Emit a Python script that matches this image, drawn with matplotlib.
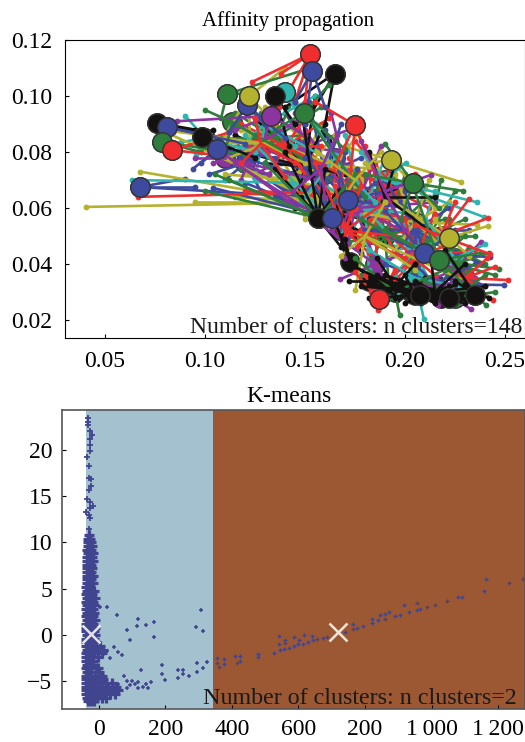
# -*- coding: utf-8 -*-
"""
Affinity propagation and K-means cluster plots, values read off the figure.
"""

import matplotlib
matplotlib.use('Agg')
import matplotlib.pyplot as plt

plt.rcParams['font.family'] = ['Liberation Serif', 'DejaVu Serif']

BLUE = '#3d4a9e'
GREEN = '#2f7d3b'
RED = '#ee2e2f'
TEAL = '#2fb5ae'
PURPLE = '#8c35a0'
OLIVE = '#b5b22f'
BLACK = '#141210'

# Affinity propagation: (exemplar x, exemplar y, [member points])
clusters_blue = [
    (0.120, 0.076, [(0.110, 0.070), (0.102, 0.072), (0.135, 0.070), (0.150, 0.062), (0.128, 0.066), (0.140, 0.066), (0.155, 0.060), (0.115, 0.086)]),
    (0.160, 0.072, [(0.130, 0.086), (0.120, 0.080), (0.140, 0.094), (0.152, 0.098), (0.168, 0.090), (0.178, 0.078), (0.186, 0.066), (0.178, 0.056), (0.165, 0.054), (0.150, 0.066), (0.138, 0.076), (0.195, 0.058)]),
    (0.205, 0.052, [(0.190, 0.070), (0.210, 0.068), (0.222, 0.060), (0.232, 0.052), (0.238, 0.040), (0.225, 0.032), (0.205, 0.030), (0.192, 0.042), (0.180, 0.052), (0.198, 0.062)]),
    (0.0675, 0.0675, [(0.090, 0.0705), (0.095, 0.0675), (0.150, 0.0640)]),
    (0.106, 0.081, [(0.094, 0.074), (0.098, 0.0760), (0.135, 0.0780), (0.150, 0.0710)]),
    (0.1637, 0.0564, [(0.120, 0.0690), (0.104, 0.0672), (0.135, 0.0640), (0.150, 0.0745), (0.170, 0.0800), (0.185, 0.0690), (0.150, 0.0840)]),
    (0.1717, 0.0629, [(0.150, 0.0780), (0.160, 0.0880), (0.190, 0.0660), (0.176, 0.0740), (0.200, 0.0600)]),
    (0.2094, 0.0439, [(0.190, 0.0590), (0.185, 0.0520), (0.2427, 0.0425), (0.225, 0.0520), (0.200, 0.0660)]),
    (0.215, 0.0330, [(0.2494, 0.0325), (0.235, 0.0400), (0.205, 0.0400), (0.190, 0.0400)]),
    (0.121, 0.0968, [(0.130, 0.0900), (0.112, 0.0870), (0.140, 0.0850)]),
    (0.1537, 0.109, [(0.145, 0.0980), (0.160, 0.0960), (0.150, 0.0900)]),
    (0.081, 0.0889, [(0.100, 0.0860), (0.120, 0.0830)]),
]
clusters_green = [
    (0.212, 0.050, [(0.200, 0.048), (0.225, 0.066), (0.220, 0.038), (0.232, 0.038), (0.200, 0.040), (0.230, 0.056), (0.218, 0.070), (0.240, 0.040)]),
    (0.190, 0.050, [(0.175, 0.066), (0.165, 0.062), (0.185, 0.072), (0.200, 0.072), (0.212, 0.064), (0.220, 0.056), (0.215, 0.044), (0.205, 0.036), (0.192, 0.032), (0.178, 0.036), (0.172, 0.048), (0.224, 0.042), (0.235, 0.050), (0.205, 0.058)]),
    (0.135, 0.085, [(0.115, 0.094), (0.108, 0.085), (0.118, 0.074), (0.130, 0.076), (0.152, 0.076), (0.162, 0.070), (0.150, 0.086), (0.158, 0.096), (0.145, 0.100), (0.128, 0.094)]),
    (0.225, 0.040, [(0.245, 0.036), (0.238, 0.032), (0.232, 0.046), (0.242, 0.044), (0.236, 0.028), (0.215, 0.030), (0.210, 0.048), (0.222, 0.056), (0.228, 0.030)]),
    (0.111, 0.1007, [(0.108, 0.0920), (0.1527, 0.1100), (0.125, 0.1010)]),
    (0.0786, 0.0836, [(0.098, 0.0800), (0.120, 0.0790)]),
    (0.1136, 0.0907, [(0.100, 0.0950), (0.140, 0.0800), (0.125, 0.0860), (0.110, 0.0800)]),
    (0.1495, 0.094, [(0.170, 0.0810), (0.162, 0.1040), (0.135, 0.0880), (0.180, 0.0640)]),
    (0.157, 0.0564, [(0.105, 0.0720), (0.112, 0.0700), (0.130, 0.0760), (0.100, 0.0660), (0.175, 0.0720)]),
    (0.204, 0.0689, [(0.229, 0.0661), (0.190, 0.0830), (0.180, 0.0720), (0.2168, 0.0600), (0.198, 0.0560)]),
    (0.2168, 0.0414, [(0.2469, 0.0382), (0.205, 0.0660), (0.2404, 0.0254), (0.190, 0.0520), (0.230, 0.0500), (0.178, 0.0560), (0.238, 0.0440)]),
    (0.195, 0.0300, [(0.1973, 0.0218), (0.175, 0.0420), (0.2200, 0.0380)]),
    (0.225, 0.0280, [(0.245, 0.0300), (0.210, 0.0340), (0.240, 0.0360)]),
]
clusters_red = [
    (0.195, 0.066, [(0.175, 0.084), (0.168, 0.066), (0.182, 0.050), (0.192, 0.054), (0.205, 0.072), (0.212, 0.060), (0.172, 0.074), (0.185, 0.076), (0.165, 0.078), (0.178, 0.052)]),
    (0.185, 0.058, [(0.165, 0.070), (0.172, 0.078), (0.180, 0.082), (0.192, 0.074), (0.200, 0.064), (0.208, 0.056), (0.205, 0.048), (0.195, 0.044), (0.186, 0.040), (0.176, 0.046), (0.168, 0.058), (0.160, 0.066), (0.188, 0.068), (0.178, 0.062), (0.198, 0.054), (0.214, 0.050), (0.152, 0.080), (0.146, 0.088)]),
    (0.140, 0.082, [(0.118, 0.090), (0.125, 0.078), (0.132, 0.072), (0.150, 0.072), (0.158, 0.082), (0.162, 0.092), (0.150, 0.092), (0.135, 0.092), (0.122, 0.084), (0.110, 0.082), (0.158, 0.066), (0.168, 0.072)]),
    (0.205, 0.042, [(0.190, 0.052), (0.215, 0.058), (0.225, 0.048), (0.235, 0.045), (0.228, 0.036), (0.215, 0.036), (0.195, 0.034), (0.183, 0.030), (0.200, 0.056)]),
    (0.1527, 0.115, [(0.1235, 0.1050), (0.138, 0.1080), (0.145, 0.0980), (0.137, 0.0960), (0.150, 0.0980)]),
    (0.0836, 0.0807, [(0.112, 0.0870), (0.105, 0.0790)]),
    (0.150, 0.0655, [(0.0665, 0.0640), (0.120, 0.0660)]),
    (0.175, 0.0896, [(0.155, 0.0980), (0.165, 0.0750), (0.185, 0.0720), (0.172, 0.0660), (0.180, 0.0800)]),
    (0.170, 0.0520, [(0.155, 0.0760), (0.190, 0.0620), (0.178, 0.0680), (0.165, 0.0680), (0.195, 0.0500), (0.182, 0.0440), (0.175, 0.0600), (0.200, 0.0420)]),
    (0.1868, 0.0275, [(0.1863, 0.0236), (0.180, 0.0360), (0.195, 0.0380), (0.175, 0.0370)]),
    (0.218, 0.0500, [(0.232, 0.0632), (0.2414, 0.0564), (0.2427, 0.0435), (0.225, 0.0620), (0.205, 0.0540)]),
    (0.230, 0.0350, [(0.2514, 0.0343), (0.244, 0.0271), (0.245, 0.0390), (0.2410, 0.0420)]),
    (0.128, 0.0830, [(0.145, 0.0760), (0.118, 0.0760), (0.140, 0.0710), (0.125, 0.0920)]),
]
clusters_teal = [
    (0.205, 0.045, [(0.190, 0.060), (0.215, 0.066), (0.222, 0.050), (0.195, 0.036), (0.212, 0.034), (0.228, 0.044), (0.185, 0.048)]),
    (0.180, 0.060, [(0.155, 0.070), (0.170, 0.086), (0.190, 0.078), (0.202, 0.058), (0.198, 0.046), (0.182, 0.038), (0.172, 0.050), (0.212, 0.050)]),
    (0.130, 0.090, [(0.112, 0.078), (0.125, 0.070), (0.145, 0.082), (0.160, 0.078), (0.155, 0.100), (0.118, 0.098)]),
    (0.1398, 0.1014, [(0.150, 0.0900), (0.145, 0.0960)]),
    (0.100, 0.0850, [(0.0955, 0.0790), (0.0880, 0.0835), (0.0900, 0.0930), (0.125, 0.0800)]),
    (0.1450, 0.0690, [(0.0635, 0.0700), (0.120, 0.0860), (0.168, 0.0520)]),
    (0.165, 0.0780, [(0.155, 0.0900), (0.185, 0.0620), (0.1480, 0.0620)]),
    (0.190, 0.0700, [(0.2003, 0.0761), (0.2395, 0.0568), (0.2359, 0.0621), (0.178, 0.0800)]),
    (0.205, 0.0350, [(0.2094, 0.0204), (0.195, 0.0280), (0.182, 0.0450), (0.235, 0.0310)]),
    (0.225, 0.0420, [(0.240, 0.0470), (0.210, 0.0560), (0.2050, 0.0460)]),
]
clusters_purple = [
    (0.150, 0.082, [(0.125, 0.072), (0.135, 0.082), (0.168, 0.080), (0.172, 0.088), (0.160, 0.070), (0.145, 0.094)]),
    (0.175, 0.060, [(0.150, 0.088), (0.163, 0.094), (0.188, 0.082), (0.196, 0.068), (0.205, 0.050), (0.188, 0.036), (0.170, 0.042), (0.158, 0.062), (0.215, 0.062)]),
    (0.225, 0.038, [(0.240, 0.032), (0.232, 0.028), (0.212, 0.042), (0.218, 0.052), (0.238, 0.048), (0.205, 0.032)]),
    (0.125, 0.082, [(0.104, 0.076), (0.118, 0.070), (0.142, 0.078), (0.152, 0.094)]),
    (0.133, 0.0929, [(0.0860, 0.0910), (0.115, 0.0880), (0.150, 0.0860), (0.128, 0.0800)]),
    (0.1100, 0.0780, [(0.0950, 0.0780), (0.155, 0.0700), (0.132, 0.0720)]),
    (0.1677, 0.0520, [(0.1150, 0.0760), (0.1720, 0.0590), (0.1400, 0.0620)]),
    (0.185, 0.0400, [(0.1677, 0.0346), (0.205, 0.0450), (0.1100, 0.0790)]),
    (0.190, 0.0660, [(0.2128, 0.0718), (0.1780, 0.0840), (0.205, 0.0700), (0.200, 0.0520)]),
    (0.215, 0.0320, [(0.2164, 0.0254), (0.233, 0.0239), (0.235, 0.0350), (0.200, 0.0330)]),
    (0.158, 0.0740, [(0.166, 0.0860), (0.144, 0.0660), (0.160, 0.0640)]),
]
clusters_olive = [
    (0.145, 0.070, [(0.110, 0.072), (0.120, 0.072), (0.128, 0.088), (0.150, 0.056), (0.165, 0.086), (0.158, 0.090), (0.172, 0.064)]),
    (0.165, 0.075, [(0.130, 0.096), (0.118, 0.088), (0.148, 0.062), (0.175, 0.060), (0.186, 0.074), (0.178, 0.088), (0.140, 0.072)]),
    (0.205, 0.055, [(0.195, 0.072), (0.222, 0.062), (0.236, 0.054), (0.228, 0.040), (0.190, 0.040), (0.180, 0.058), (0.212, 0.070)]),
    (0.122, 0.100, [(0.122, 0.0840), (0.1400, 0.1100), (0.135, 0.0900), (0.110, 0.0860)]),
    (0.157, 0.0620, [(0.0405, 0.0604), (0.0675, 0.0730), (0.0775, 0.0880), (0.095, 0.0620), (0.115, 0.0640), (0.135, 0.0700)]),
    (0.1300, 0.0830, [(0.0780, 0.0880), (0.0950, 0.0835), (0.1120, 0.0780), (0.150, 0.0760)]),
    (0.1928, 0.0771, [(0.180, 0.0760), (0.2278, 0.0693), (0.200, 0.0620), (0.170, 0.0820), (0.215, 0.0600)]),
    (0.222, 0.0493, [(0.2414, 0.0536), (0.215, 0.0560), (0.195, 0.0620), (0.232, 0.0430)]),
    (0.180, 0.0500, [(0.230, 0.0340), (0.1752, 0.0307), (0.205, 0.0380), (0.1680, 0.0430), (0.1900, 0.0620)]),
    (0.1750, 0.0700, [(0.1680, 0.0620), (0.1560, 0.0800), (0.1880, 0.0800)]),
]
clusters_black = [
    (0.170, 0.060, [(0.180, 0.066), (0.190, 0.048), (0.178, 0.044), (0.200, 0.068), (0.162, 0.084), (0.168, 0.046)]),
    (0.150, 0.075, [(0.125, 0.092), (0.115, 0.086), (0.105, 0.082), (0.130, 0.076), (0.160, 0.090), (0.170, 0.072), (0.160, 0.060), (0.145, 0.060), (0.175, 0.052), (0.155, 0.100)]),
    (0.1648, 0.108, [(0.1500, 0.0900), (0.1400, 0.0960), (0.1590, 0.0860)]),
    (0.135, 0.100, [(0.1300, 0.0900), (0.1450, 0.0900), (0.1420, 0.0820)]),
    (0.076, 0.0904, [(0.0950, 0.0880), (0.1150, 0.0840)]),
    (0.0986, 0.0854, [(0.1100, 0.0820), (0.1250, 0.0780), (0.1040, 0.0880)]),
    (0.1565, 0.0564, [(0.1480, 0.0960), (0.1400, 0.0800), (0.1600, 0.0740), (0.1350, 0.0740), (0.1660, 0.0660), (0.1480, 0.0640), (0.1760, 0.0390)]),
    (0.1900, 0.0640, [(0.2150, 0.0640), (0.1960, 0.0780), (0.2120, 0.0520), (0.1820, 0.0800)]),
    (0.1727, 0.0407, [(0.1700, 0.0490), (0.1810, 0.0360), (0.1650, 0.0550)]),
    (0.1820, 0.0340, [(0.2000, 0.0330), (0.1900, 0.0300), (0.1720, 0.0340)]),
    (0.2030, 0.0300, [(0.2150, 0.0260), (0.1960, 0.0270), (0.2100, 0.0350), (0.1880, 0.0330)]),
    (0.2180, 0.0280, [(0.2300, 0.0260), (0.2250, 0.0330), (0.2080, 0.0280)]),
    (0.2350, 0.0290, [(0.2420, 0.0280), (0.2250, 0.0340), (0.2300, 0.0330), (0.2200, 0.0450)]),
    (0.215, 0.030, [(0.190, 0.028), (0.200, 0.026), (0.205, 0.034), (0.225, 0.026), (0.235, 0.027), (0.240, 0.032), (0.230, 0.040), (0.190, 0.036), (0.178, 0.032), (0.213, 0.042), (0.222, 0.032)]),
    (0.195, 0.032, [(0.172, 0.040), (0.182, 0.028), (0.186, 0.042), (0.205, 0.040), (0.215, 0.027), (0.195, 0.028), (0.208, 0.026)]),
    (0.205, 0.029, [(0.182, 0.033), (0.192, 0.031), (0.198, 0.032), (0.212, 0.028), (0.220, 0.030), (0.228, 0.029), (0.238, 0.030), (0.232, 0.027), (0.186, 0.036), (0.200, 0.036)]),
]

# exemplars that stay visible on top of the cloud
top_x = [0.1398, 0.1648, 0.1527, 0.1537, 0.1495, 0.111, 0.135, 0.121, 0.122, 0.133, 0.076, 0.081, 0.0786, 0.0836, 0.0675,
         0.0986, 0.106, 0.1565, 0.1717, 0.1637, 0.1928, 0.175, 0.222, 0.2094, 0.2168, 0.1868, 0.204, 0.2075, 0.222, 0.235]
top_y = [0.1014, 0.108, 0.115, 0.109, 0.094, 0.1007, 0.100, 0.0968, 0.100, 0.0929, 0.0904, 0.0889, 0.0836, 0.0807, 0.0675,
         0.0854, 0.081, 0.0564, 0.0629, 0.0564, 0.0771, 0.0896, 0.0493, 0.0439, 0.0414, 0.0275, 0.0689, 0.029, 0.028, 0.029]
top_colors = [TEAL, BLACK, RED, BLUE, GREEN, GREEN, BLACK, BLUE, OLIVE, PURPLE, BLACK, BLUE, GREEN, RED, BLUE,
              BLACK, BLUE, BLACK, BLUE, BLUE, OLIVE, RED, OLIVE, BLUE, GREEN, RED, GREEN, BLACK, BLACK, BLACK]

# K-means: dense column near zero, one row = (y, x values)
column_rows = [
    (10.8, -31), (10.4, -32, -28), (10.0, -34, -29, -24), (9.6, -33, -27, -21),
    (9.2, -35, -29, -24), (8.8, -34, -30, -23, -18), (8.4, -36, -28, -22), (8.0, -35, -30, -25, -19),
    (7.6, -36, -29, -23), (7.2, -35, -31, -26, -20), (6.8, -37, -30, -24), (6.4, -36, -28, -22, -17),
    (6.0, -37, -31, -25), (5.6, -35, -29, -23, -18), (5.2, -38, -31, -26), (4.8, -36, -30, -24, -15),
    (4.4, -38, -32, -27, -21), (4.0, -37, -30, -23, -12), (3.6, -38, -32, -25, -19), (3.2, -36, -29, -22, -15),
    (2.8, -39, -31, -25, -18), (2.4, -37, -30, -24, -14), (2.0, -38, -32, -26, -19), (1.6, -37, -30, -23, -13),
    (1.2, -39, -31, -25, -17), (0.8, -38, -30, -22, -12), (0.4, -40, -33, -26, -16), (0.0, -37, -30, -23, -11),
    (-0.4, -39, -32, -25, -15), (-0.8, -38, -30, -22, -9), (-1.2, -39, -32, -26, -12, 2), (-1.6, -37, -29, -21, -6, 12),
    (-2.0, -39, -33, -25, -15, 8), (-2.4, -38, -30, -22, -4), (-2.8, -39, -32, -26, -18), (-3.2, -37, -29, -23),
    (-3.6, -39, -33, -26, -10, -2), (-4.0, -37, -30, -24, 0), (-4.4, -38, -32, -26, -12, 8), (-4.8, -39, -31, -24, -5, 12),
    (-5.2, -40, -33, -26, -14, 2, 20, 40), (-5.6, -39, -31, -22, -8, 10, 28, 50), (-6.0, -40, -32, -24, -13, -2, 12, 26, 42, 58),
    (-6.4, -38, -30, -21, -9, 4, 18, 32, 48), (-6.8, -36, -28, -18, -6, 8, 22), (-7.1, -33, -24, -14),
]
upper_x = [-32, -32, -32, -27, -22, -27, -27, -27, -35, -29, -31, -24, -24, -31, -35, -27, -17, -27, -38, -30, -27, -30]
upper_y = [23.4, 23.05, 22.7, 22.0, 21.6, 21.2, 20.5, 19.9, 19.2, 18.2, 17.0, 16.8, 16.1, 15.7, 14.7, 14.4, 13.9, 13.7, 13.3, 13.0, 12.6, 11.4]
left_x = [3, 25, 55, 117, 84, 113, 142, 167, 167, 92, 308, 292, 312, 45, 25, 58, 69, 33, 15, 128, 75, 191, 190, 200, 238, 254, 254, 238, 270, 296, 296, 312, 324,
          58, 83, 83, 108, 118, 118, 143, 158, 92, 100, 134, 148, -5, 5, 18]
left_y = [3.05, 3.05, 2.15, 1.7, 0.55, 1.0, 1.1, 1.35, -0.25, -0.5, 2.65, 0.85, 0.4, -1.3, -1.7, -1.85, -2.2, -2.5, -2.0, -3.77, -4.4, -3.3, -4.2, -4.85, -3.77, -3.74, -4.2, -4.7, -4.4, -3.0, -3.97, -3.6, -2.93,
          -5.3, -5.0, -5.7, -5.3, -5.05, -5.7, -5.3, -5.05, -5.4, -5.0, -5.6, -5.7, -3.9, -4.3, -4.9]
right_x = [356, 356, 362, 376, 376, 409, 424, 424, 416, 479, 479, 525, 543, 541, 541, 560, 558, 587, 603, 617, 640, 555, 570, 585, 600, 615, 630, 645, 657, 675, 685,
           740, 763, 763, 775, 795, 820, 820, 840, 845, 860, 860, 873, 890, 905, 918, 933, 955, 955, 965, 985, 1010, 1045, 1080, 1092, 1158, 1165, 1233, 1275]
right_y = [-2.44, -2.98, -3.45, -2.63, -3.1, -2.3, -2.3, -2.8, -3.0, -2.1, -2.37, -1.9, -1.6, -0.11, -1.0, -0.5, -0.87, -0.2, -0.57, 0.0, -0.1, -1.55, -1.4, -1.2, -1.0, -0.93, -0.75, -0.57, -0.47, -0.35, -0.2,
           0.32, 0.6, 1.2, 0.8, 0.98, 1.3, 1.7, 1.6, 2.2, 1.7, 2.3, 2.5, 2.0, 2.2, 3.2, 2.5, 3.4, 2.7, 2.8, 3.05, 3.25, 3.65, 4.1, 4.1, 4.8, 6.0, 5.6, 6.0]
centers_x = [-25, 718]
centers_y = [0.1, 0.35]
region_edges = [-40, 343, 1281]
region_colors = ['#a4c1d0', '#9c5832']

fig = plt.figure(figsize=(5.25, 7.42), dpi=100)

# Affinity propagation
ax1 = fig.add_axes([65 / 525, 1 - 338 / 742, 460 / 525, 298 / 742])
groups = [(clusters_blue, BLUE), (clusters_green, GREEN), (clusters_red, RED), (clusters_teal, TEAL),
          (clusters_purple, PURPLE), (clusters_olive, OLIVE), (clusters_black, BLACK)]
for k in range(16):
    for clusters, col in groups:
        if k >= len(clusters):
            continue
        cx, cy, members = clusters[k]
        ax1.plot(cx, cy, 'o', color=col, mec='#333333', mew=1.0, ms=14, zorder=1)
        for mx, my in members:
            ax1.plot([cx, mx], [cy, my], '-', color=col, lw=1.9, zorder=2)
            ax1.plot(mx, my, 'o', color=col, ms=4.2, mew=0, zorder=2)
for i in range(len(top_x)):
    ax1.plot(top_x[i], top_y[i], 'o', color=top_colors[i], mec='#333333', mew=1.0, ms=14, zorder=3)
ax1.set_xlim(0.03, 0.26)
ax1.set_ylim(0.0136, 0.12)
ax1.set_xticks([0.05, 0.10, 0.15, 0.20, 0.25])
ax1.set_xticklabels(['0.05', '0.10', '0.15', '0.20', '0.25'])
ax1.set_yticks([0.02, 0.04, 0.06, 0.08, 0.10, 0.12])
ax1.set_yticklabels(['0.02', '0.04', '0.06', '0.08', '0.10', '0.12'])
ax1.tick_params(direction='in', length=3, width=0.8, labelsize=17, pad=9)
ax1.set_title('Affinity propagation', fontsize=15, pad=10, x=0.485)
ax1.text(0.995, 0.0, 'Number of clusters: n clusters=148', transform=ax1.transAxes,
         ha='right', va='bottom', fontsize=17, color='#1a1a1a', zorder=5)

# K-means
ax2 = fig.add_axes([62 / 525, 1 - 709 / 742, 463 / 525, 299 / 742])
for i in range(2):
    ax2.axvspan(region_edges[i], region_edges[i + 1], color=region_colors[i], lw=0, zorder=0)
for row in column_rows:
    ax2.plot(row[1:], [row[0]] * (len(row) - 1), '+', color='#41458f', ms=6.5, mew=2.3, zorder=2)
ax2.plot(upper_x, upper_y, '+', color='#41458f', ms=4, mew=1.3, zorder=2)
ax2.plot(left_x, left_y, '+', color='#41458f', ms=3.5, mew=1.1, zorder=2)
ax2.plot(right_x, right_y, '+', color='#41458f', ms=3, mew=1.0, zorder=2)
ax2.plot(centers_x, centers_y, 'x', color='white', ms=13, mew=1.8, alpha=0.85, zorder=3)
ax2.set_xlim(-111, 1281)
ax2.set_ylim(-8.0, 24.3)
ax2.set_xticks([0, 200, 400, 600, 800, 1000, 1200])
ax2.set_xticklabels(['0', '200', '400', '600', '200', '1\u2009000', '1\u2009200'])
ax2.set_yticks([-5, 0, 5, 10, 15, 20])
ax2.set_yticklabels(['−5', '0', '5', '10', '15', '20'])
ax2.tick_params(direction='in', length=3, width=0.8, labelsize=17, pad=7)
for s in ax2.spines.values():
    s.set_color('#555555')
    s.set_linewidth(1.2)
ax2.set_title('K-means', fontsize=17, pad=6, x=0.49)
ax2.text(0.983, 0.0, 'Number of clusters: n clusters=2', transform=ax2.transAxes,
         ha='right', va='bottom', fontsize=17.3, color='#1a1a1a')

fig.savefig('out.png', dpi=100)
